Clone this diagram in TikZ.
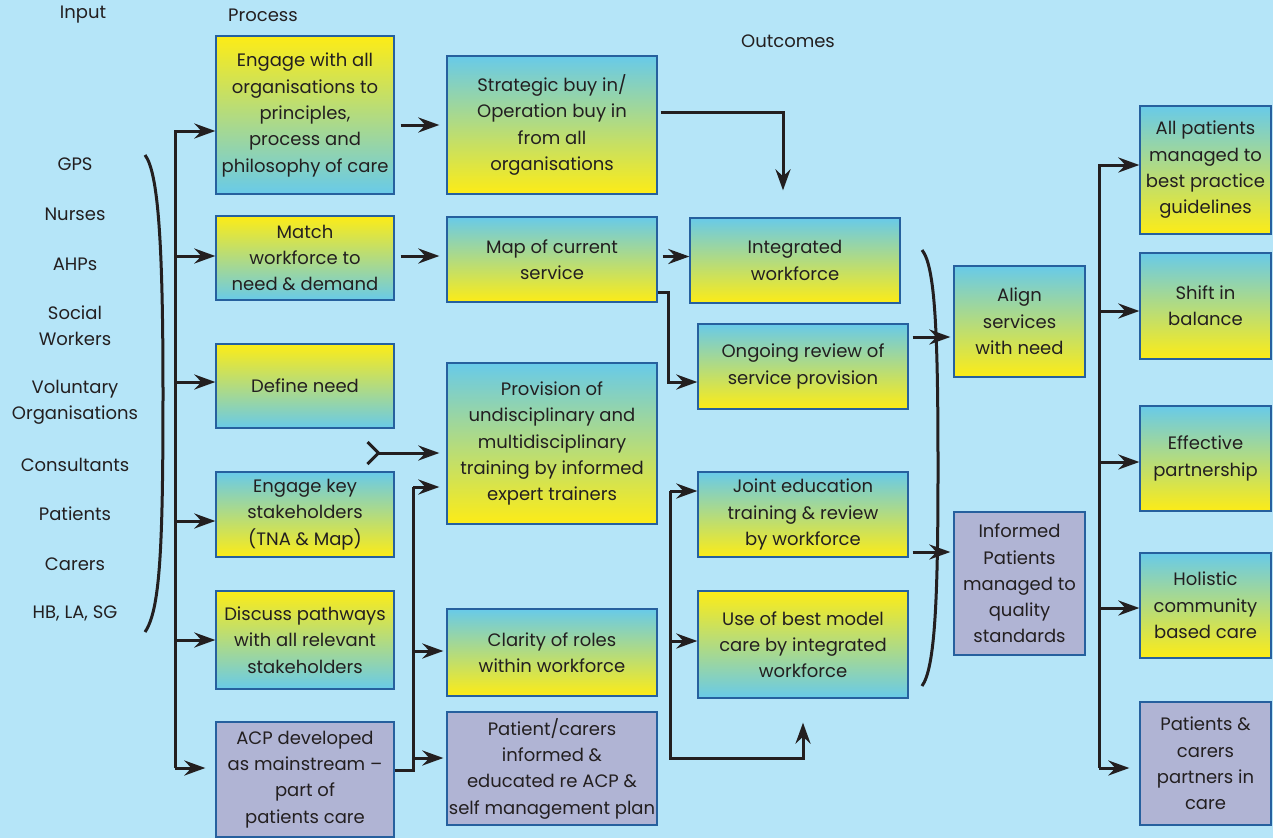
\documentclass[tikz,border=0pt]{standalone}
\usepackage{fontspec}
\setmainfont{Poppins}
\usetikzlibrary{positioning,arrows.meta,calc}
\definecolor{bgblue}{RGB}{181,229,248}
\definecolor{yel}{RGB}{253,236,22}
\definecolor{cyn}{RGB}{104,202,233}
\definecolor{lilac}{RGB}{176,180,212}
\definecolor{edge}{RGB}{38,96,158}
\definecolor{ink}{RGB}{35,31,32}

\begin{document}
\begin{tikzpicture}[x=1pt,y=-1pt,
	every node/.style={font=\fontsize{18}{26.3}\selectfont, text=ink, align=center},
	box/.style={draw=edge, line width=1.3pt, inner sep=0pt},
	yc/.style={box, top color=yel, bottom color=cyn},
	cy/.style={box, top color=cyn, bottom color=yel},
	pp/.style={box, fill=lilac},
	pw/.style={minimum width=178},
	sw/.style={minimum width=210},
	ow/.style={minimum width=131},
	ln/.style={line width=3pt, draw=ink},
	arr/.style={ln, -{Stealth[length=21pt,width=15pt,inset=7pt]}}]
	\fill[bgblue] (0,0) rectangle (1273,838);
	\useasboundingbox (0,0) rectangle (1273,838);
	\node (inp) at (83,15) {Input};
	\node (prc) at (263,15) {Process};
	\node (out) at (788,41) {Outcomes};
	\node (gps) at (75,164) {GPS};
	\node (nur) at (75,214) {Nurses};
	\node (ahp) at (75,264) {AHPs};
	\node (soc) at (75,326) {Social\\Workers};
	\node (vol) at (75,402) {Voluntary\\Organisations};
	\node (con) at (75,465) {Consultants};
	\node (pat) at (75,514) {Patients};
	\node (car) at (75,564) {Carers};
	\node (hb) at (75,613) {HB, LA, SG};
	\node[yc,pw,minimum height=158] (P1) at (305,115) {Engage with all\\organisations to\\principles,\\process and\\philosophy of care};
	\node[yc,pw,minimum height=84] (P2) at (305,258) {Match\\workforce to\\need \& demand};
	\node[yc,pw,minimum height=84] (P3) at (305,386) {Define need};
	\node[cy,pw,minimum height=85] (P4) at (305,514.5) {Engage key\\stakeholders\\(TNA \& Map)};
	\node[yc,pw,minimum height=98] (P5) at (305,640) {Discuss pathways\\with all relevant\\stakeholders};
	\node[pp,pw,minimum height=115] (P6) at (305,779.5) {ACP developed\\as mainstream --\\part of\\patients care};
	\node[cy,sw,minimum height=138] (S1) at (552,125) {Strategic buy in/\\Operation buy in\\from all\\organisations};
	\node[cy,sw,minimum height=85] (S2) at (552,259.5) {Map of current\\service};
	\node[cy,sw,minimum height=161] (S3) at (552,443.5) {Provision of\\undisciplinary and\\multidisciplinary\\training by informed\\expert trainers};
	\node[cy,sw,minimum height=87] (S4) at (552,652.5) {Clarity of roles\\within workforce};
	\node[pp,sw,minimum height=113] (S5) at (552,768.5) {Patient/carers\\informed \&\\educated re ACP \&\\self management plan};
	\node[cy,sw,minimum height=85] (Int) at (795,260.5) {Integrated\\workforce};
	\node[cy,sw,minimum height=85] (Ong) at (803,366.5) {Ongoing review of\\service provision};
	\node[cy,sw,minimum height=85] (Joi) at (803,514.5) {Joint education\\training \& review\\by workforce};
	\node[yc,sw,minimum height=107] (Use) at (803,644.5) {Use of best model\\care by integrated\\workforce};
	\node[cy,ow,minimum height=111] (Ali) at (1019.5,321.5) {Align\\services\\with need};
	\node[pp,ow,minimum height=143] (Inf) at (1019.5,583.5) {Informed\\Patients\\managed to\\quality\\standards};
	\node[cy,ow,minimum height=128] (All) at (1205.5,170) {All patients\\managed to\\best practice\\guidelines};
	\node[cy,ow,minimum height=106] (Shi) at (1205.5,306) {Shift in\\balance};
	\node[cy,ow,minimum height=105] (Eff) at (1205.5,458.5) {Effective\\partnership};
	\node[cy,ow,minimum height=105] (Hol) at (1205.5,605.5) {Holistic\\community\\based care};
	\node[pp,ow,minimum height=123] (Pac) at (1205.5,763.5) {Patients \&\\carers\\partners in\\care};
	\draw[ln] (145,155) .. controls (158,172) and (163,240) .. (163,393) .. controls (163,550) and (160,610) .. (145,632);
	\coordinate (lt) at (175,131);
	\coordinate (lb) at (175,768);
	\draw[arr] (lb) -- (lt) -- (lt -| P1.west);
	\draw[arr] ([yshift=2pt]P2.west -| lt) -- ([yshift=2pt]P2.west);
	\draw[arr] ([yshift=4pt]P3.west -| lt) -- ([yshift=4pt]P3.west);
	\draw[arr] ([yshift=-6.5pt]P4.west -| lt) -- ([yshift=-6.5pt]P4.west);
	\draw[arr] (P5.west -| lt) -- (P5.west);
	\draw[arr] (lb) -- ([xshift=-10pt]lb -| P6.west);
	\draw[arr, shorten <=6pt, shorten >=7pt] (P1.east |- S1.west) -- (S1.west);
	\draw[arr, shorten <=6pt, shorten >=7pt] ([yshift=2pt]P2.east) -- ([yshift=2pt]P2.east -| S2.west);
	\coordinate (fk) at (366,453);
	\draw[arr, {Straight Barb[reversed,length=11pt,width=22pt]}-{Stealth[length=21pt,width=15pt,inset=7pt]}, shorten >=7pt] (fk) -- (fk -| S3.west);
	\coordinate (mt) at (413,487);
	\coordinate (mb) at (413,770);
	\draw[ln] ([yshift=9.5pt]P6.east) -- (mb) -- (mt);
	\draw[arr, shorten >=7pt] (mt) -- (mt -| S3.west);
	\draw[arr, shorten >=3pt] ([yshift=1.5pt]S4.west -| mt) -- ([yshift=1.5pt]S4.west);
	\draw[arr, shorten >=3pt] ([yshift=10.5pt]S5.west -| mt) -- ([yshift=10.5pt]S5.west);
	\coordinate (sc) at (783,112);
	\draw[arr, shorten <=3pt, shorten >=27pt] (S1.east |- sc) -- (sc) -- (sc |- Int.north);
	\draw[arr, shorten <=5pt] ([yshift=3pt]S2.east) -- ([yshift=3pt]S2.east -| Int.west);
	\draw[arr] ([yshift=10pt]S2.south east) -- ++(11,0) |- ([yshift=-15.5pt]Ong.west);
	\coordinate (jt) at (670,491);
	\coordinate (jb) at (670,758);
	\draw[arr] (jt) -- (jt -| Joi.west);
	\draw[arr] ([yshift=3.5pt]Use.west -| jt) -- ([yshift=3.5pt]Use.west);
	\draw[arr] (jt) -- (jb) -| ([yshift=-24pt]Use.south);
	\draw[ln] (922,250) .. controls (935,266) and (938,330) .. (938,468) .. controls (938,600) and (935,668) .. (922,686);
	\draw[arr, shorten <=4pt, shorten >=3pt] ([yshift=29.5pt]Ong.east) -- ([yshift=29.5pt]Ong.east -| Ali.west);
	\draw[arr, shorten <=4pt, shorten >=3pt] ([yshift=-37.5pt]Joi.east) -- ([yshift=-37.5pt]Joi.east -| Inf.west);
	\coordinate (rt) at (1099,165);
	\coordinate (rb) at (1099,768);
	\draw[arr] (rb) -- (rt) -- (rt -| All.west);
	\draw[arr] ([yshift=-5pt]Shi.west -| rt) -- ([yshift=-5pt]Shi.west);
	\draw[arr] ([yshift=-3.5pt]Eff.west -| rt) -- ([yshift=-3.5pt]Eff.west);
	\draw[arr] ([yshift=-2.5pt]Hol.west -| rt) -- ([yshift=-2.5pt]Hol.west);
	\draw[arr] (rb) -- ([xshift=-10pt]rb -| Pac.west);
\end{tikzpicture}
\end{document}
